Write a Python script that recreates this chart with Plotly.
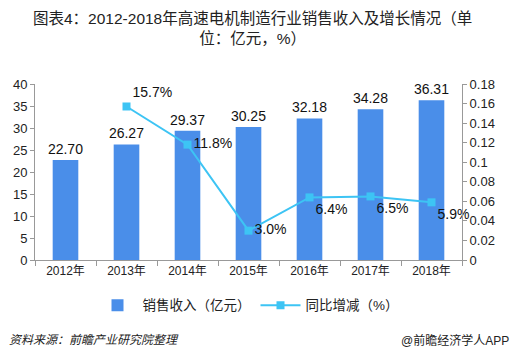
import plotly.graph_objects as go

years = ["2012年", "2013年", "2014年", "2015年", "2016年", "2017年", "2018年"]
sales = [22.70, 26.27, 29.37, 30.25, 32.18, 34.28, 36.31]
growth_years = ["2013年", "2014年", "2015年", "2016年", "2017年", "2018年"]
growth = [0.157, 0.118, 0.030, 0.064, 0.065, 0.059]
growth_labels = ["15.7%", "11.8%", "3.0%", "6.4%", "6.5%", "5.9%"]
growth_pos = ["top right", "middle right", "middle right", "bottom right", "bottom right", "bottom right"]
left_ticks = [0, 5, 10, 15, 20, 25, 30, 35, 40]
right_ticks = [0, 0.02, 0.04, 0.06, 0.08, 0.1, 0.12, 0.14, 0.16, 0.18]
right_ticktext = ["0", "0.02", "0.04", "0.06", "0.08", "0.1", "0.12", "0.14", "0.16", "0.18"]

FONT = "Arial, Liberation Sans, Noto Sans CJK SC"
BAR_C = "#4a8ee9"
LINE_C = "#3dc4f4"

fig = go.Figure()
fig.add_trace(go.Bar(
    x=years, y=sales, name="销售收入（亿元）",
    marker=dict(color=BAR_C, line=dict(width=0)),
    width=0.42,
    text=[f"{v:.2f}" for v in sales], textposition="outside",
    textfont=dict(size=14, color="#111", family=FONT),
    constraintext="none",
    cliponaxis=False,
))
fig.add_trace(go.Scatter(
    x=growth_years, y=growth, name="同比增减（%）", yaxis="y2",
    mode="lines+markers+text",
    line=dict(color=LINE_C, width=2),
    marker=dict(symbol="square", size=8, color=LINE_C),
    text=growth_labels, textposition=growth_pos,
    textfont=dict(size=14, color="#111", family=FONT),
    cliponaxis=False,
))

fig.update_layout(
    width=516, height=361,
    margin=dict(l=35, r=54, t=84, b=101, autoexpand=False),
    paper_bgcolor="white", plot_bgcolor="white",
    font=dict(family=FONT, size=12, color="#222"),
    showlegend=True,
    legend=dict(orientation="h", x=0.5, xanchor="center", y=-0.17, yanchor="top",
                font=dict(size=13.5, color="#222"), itemwidth=40),
    xaxis=dict(type="category", showline=True, linecolor="#999", linewidth=1,
               ticks="outside", tickson="boundaries", ticklen=5, tickcolor="#999",
               showgrid=False, tickfont=dict(size=12, color="#222")),
    yaxis=dict(range=[0, 40], tickvals=left_ticks, showline=True, linecolor="#999",
               ticks="outside", ticklen=4, tickcolor="#999", showgrid=False, zeroline=False,
               tickfont=dict(size=13, color="#222")),
    yaxis2=dict(range=[0, 0.18], tickvals=right_ticks, ticktext=right_ticktext,
                overlaying="y", side="right", showline=True, linecolor="#999",
                ticks="outside", ticklen=4, tickcolor="#999", showgrid=False, zeroline=False,
                tickfont=dict(size=13, color="#222")),
    bargap=0.5,
)

fig.add_annotation(text="图表4：2012-2018年高速电机制造行业销售收入及增长情况（单<br>位：亿元，%）",
                   xref="paper", yref="paper", x=0.51, xanchor="center",
                   y=1.0, yanchor="bottom", yshift=35, showarrow=False,
                   font=dict(size=15.5, color="#222"), align="center")
fig.add_annotation(text="<i>资料来源：前瞻产业研究院整理</i>",
                   xref="paper", yref="paper", x=-0.065, xanchor="left",
                   y=0, yanchor="middle", yshift=-80, showarrow=False,
                   font=dict(size=12, color="#222"))
fig.add_annotation(text="@前瞻经济学人APP",
                   xref="paper", yref="paper", x=1.115, xanchor="right",
                   y=0, yanchor="middle", yshift=-80, showarrow=False,
                   font=dict(size=12, color="#222"))

fig.write_html("out.html", config={"displayModeBar": False},
               post_script="document.body.style.margin='0';")
